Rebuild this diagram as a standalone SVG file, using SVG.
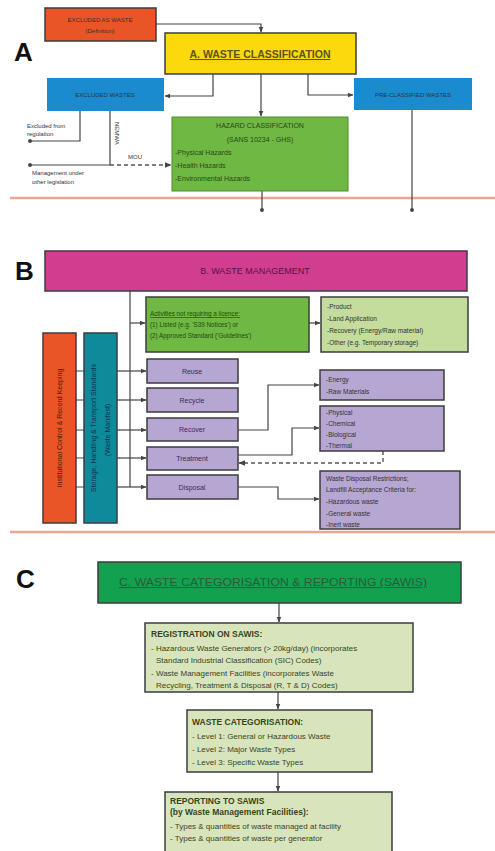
<svg xmlns="http://www.w3.org/2000/svg" width="495" height="851" viewBox="0 0 495 851">
<style>
text{font-family:"Liberation Sans",Arial,sans-serif}
.big{font-size:26px;font-weight:bold;fill:#111}
.bx{stroke:#3d3d3d;stroke-width:1.5}
.orange{fill:#ea5528}
.yellow{fill:#fcd90c}
.blue{fill:#1a8bcf}
.green{fill:#6fb843}
.mag{fill:#d13d8f}
.lgreen{fill:#c4dc9c}
.purple{fill:#b6a6d2}
.teal{fill:#0e8a9b}
.dgreen{fill:#12a24f}
.cgreen{fill:#d8e4bc}
.ln{fill:none;stroke:#444;stroke-width:1.2}
.dash{fill:none;stroke:#555;stroke-width:1.4;stroke-dasharray:4 3}
.red{stroke:#f0a494;stroke-width:2.5}
.s{font-size:6px;fill:#333}
.t7{font-size:7px}
.t8{font-size:8px;fill:#3a4420}
.tb{font-size:8.5px;font-weight:bold;fill:#3a4420}
</style>
<defs>
<marker id="ar" viewBox="0 0 10 10" refX="9" refY="5" markerWidth="5" markerHeight="5" orient="auto"><path d="M0 1L10 5L0 9z" fill="#444"/></marker>
<marker id="dot" viewBox="0 0 10 10" refX="5" refY="5" markerWidth="4" markerHeight="4"><circle cx="5" cy="5" r="4" fill="#444"/></marker>
</defs>
<rect width="495" height="851" fill="#fff"/>

<text class="big" x="14" y="61">A</text>
<text class="big" x="15" y="280">B</text>
<text class="big" x="16" y="588">C</text>

<line class="red" x1="10" y1="198" x2="495" y2="198"/>
<line class="red" x1="10" y1="532" x2="495" y2="532"/>

<g id="connectors">
<path class="ln" d="M156 24H261V32" marker-end="url(#ar)"/>
<path class="ln" d="M213 74V96H165" marker-end="url(#ar)"/>
<path class="ln" d="M308 74V95H353" marker-end="url(#ar)"/>
<path class="ln" d="M261 74V116" marker-end="url(#ar)"/>
<path class="ln" d="M262 191V210" marker-end="url(#dot)"/>
<path class="ln" d="M412 110V210" marker-end="url(#dot)"/>
<path class="ln" d="M80 111V141H30" marker-end="url(#dot)"/>
<path class="ln" d="M110 111V165H30" marker-end="url(#dot)"/>
<path class="dash" d="M110 165H171" marker-end="url(#ar)"/>

<path class="ln" d="M130 291V487"/>
<path class="ln" d="M130 323H145" marker-end="url(#ar)"/>
<path class="ln" d="M309 323H320" marker-end="url(#ar)"/>
<path class="ln" d="M76 371H84M76 400H84M76 430H84M76 458H84M76 487H84"/>
<path class="ln" d="M117 371H146" marker-end="url(#ar)"/>
<path class="ln" d="M117 400H146" marker-end="url(#ar)"/>
<path class="ln" d="M117 430H146" marker-end="url(#ar)"/>
<path class="ln" d="M117 458H146" marker-end="url(#ar)"/>
<path class="ln" d="M117 487H146" marker-end="url(#ar)"/>
<path class="ln" d="M238 430H268V385H319" marker-end="url(#ar)"/>
<path class="ln" d="M238 455H292V428H319" marker-end="url(#ar)"/>
<path class="dash" d="M383 451V463H239" marker-end="url(#ar)"/>
<path class="ln" d="M238 487H278V499H319" marker-end="url(#ar)"/>

<path class="ln" d="M279 603V622" marker-end="url(#ar)"/>
<path class="ln" d="M278 692V709" marker-end="url(#ar)"/>
<path class="ln" d="M278 772V791" marker-end="url(#ar)"/>
</g>

<g id="labels">
<text class="s" x="27" y="128">Excluded from</text>
<text class="s" x="27" y="136">regulation</text>
<text class="s" x="32" y="175">Management under</text>
<text class="s" x="32" y="184">other legislation</text>
<text class="s" transform="translate(115,122) rotate(90)">NEMWA</text>
<text class="s" x="128" y="159">MOU</text>
</g>

<g id="excluded-as-waste">
<rect class="bx orange" x="45" y="8" width="111" height="33"/>
<text class="s" x="100" y="22" text-anchor="middle" fill="#5a2410">EXCLUDED AS WASTE</text>
<text class="s" x="100" y="33" text-anchor="middle" fill="#5a2410">(Definition)</text>
</g>
<g id="waste-classification">
<rect class="bx yellow" x="165" y="33" width="191" height="41"/>
<text x="260" y="58" text-anchor="middle" font-size="10.5" font-weight="bold" fill="#5b5320" text-decoration="underline">A.  WASTE CLASSIFICATION</text>
</g>
<g id="excluded-wastes">
<rect class="blue" x="47" y="78" width="117" height="33"/>
<text class="s" x="105" y="97" text-anchor="middle" fill="#163f60">EXCLUDED WASTES</text>
</g>
<g id="pre-classified">
<rect class="blue" x="354" y="78" width="118" height="32"/>
<text class="s" x="413" y="97" text-anchor="middle" fill="#163f60">PRE-CLASSIFIED WASTES</text>
</g>
<g id="hazard-classification">
<rect class="green" x="172" y="117" width="176" height="74" stroke="#4f8a2c"/>
<g font-size="7" fill="#284a14">
<text x="260" y="128" text-anchor="middle">HAZARD CLASSIFICATION</text>
<text x="260" y="142" text-anchor="middle">(SANS 10234 - GHS)</text>
<text x="175" y="155">-Physical Hazards</text>
<text x="175" y="168">-Health Hazards</text>
<text x="175" y="181">-Environmental Hazards</text>
</g>
</g>

<g id="waste-management">
<rect class="bx mag" x="45" y="251" width="422" height="40"/>
<text x="255" y="274" text-anchor="middle" font-size="9" fill="#5a1440">B.  WASTE MANAGEMENT</text>
</g>
<g id="no-licence">
<rect class="bx green" x="146" y="297" width="163" height="55"/>
<g font-size="6.3" fill="#234a10">
<text x="150" y="316" text-decoration="underline">Activities not requiring a licence:</text>
<text x="150" y="327">(1) Listed (e.g. 'S39 Notices') or</text>
<text x="150" y="338">(2) Approved Standard ('Guidelines')</text>
</g>
</g>
<g id="uses">
<rect class="bx lgreen" x="321" y="297" width="147" height="55"/>
<g font-size="6.5" fill="#333">
<text x="327" y="309">-Product</text>
<text x="327" y="321">-Land Application</text>
<text x="327" y="333">-Recovery (Energy/Raw material)</text>
<text x="327" y="345">-Other (e.g. Temporary storage)</text>
</g>
</g>
<g id="institutional">
<rect class="bx orange" x="43" y="333" width="33" height="190"/>
<text transform="translate(62,428) rotate(-90)" text-anchor="middle" font-size="7" fill="#4a1a00">Institutional Control &amp; Record Keeping</text>
</g>
<g id="storage">
<rect class="bx teal" x="84" y="333" width="33" height="190"/>
<text transform="translate(96,428) rotate(-90)" text-anchor="middle" font-size="7" fill="#0a3550">Storage, Handling &amp; Transport Standards</text>
<text transform="translate(110,430) rotate(-90)" text-anchor="middle" font-size="7" fill="#0a3550">(Waste Manifest)</text>
</g>
<g id="reuse"><rect class="bx purple" x="147" y="359" width="91" height="24"/><text class="t7" x="192" y="374" text-anchor="middle" fill="#3a2a5a">Reuse</text></g>
<g id="recycle"><rect class="bx purple" x="147" y="388" width="91" height="24"/><text class="t7" x="192" y="403" text-anchor="middle" fill="#3a2a5a">Recycle</text></g>
<g id="recover"><rect class="bx purple" x="147" y="418" width="91" height="23"/><text class="t7" x="192" y="432" text-anchor="middle" fill="#3a2a5a">Recover</text></g>
<g id="treatment"><rect class="bx purple" x="147" y="447" width="91" height="23"/><text class="t7" x="192" y="461" text-anchor="middle" fill="#3a2a5a">Treatment</text></g>
<g id="disposal"><rect class="bx purple" x="147" y="475" width="91" height="24"/><text class="t7" x="192" y="490" text-anchor="middle" fill="#3a2a5a">Disposal</text></g>
<g id="energy">
<rect class="bx purple" x="320" y="370" width="124" height="30"/>
<g font-size="6.5" fill="#333"><text x="326" y="382">-Energy</text><text x="326" y="394">-Raw Materials</text></g>
</g>
<g id="treatment-types">
<rect class="bx purple" x="320" y="406" width="124" height="45"/>
<g font-size="6.5" fill="#333">
<text x="326" y="415">-Physical</text><text x="326" y="426">-Chemical</text><text x="326" y="437">-Biological</text><text x="326" y="448">-Thermal</text>
</g>
</g>
<g id="disposal-restrictions">
<rect class="bx purple" x="320" y="471" width="140" height="58"/>
<g font-size="6.5" fill="#333">
<text x="326" y="481">Waste Disposal Restrictions;</text>
<text x="326" y="492">Landfill Acceptance Criteria for:</text>
<text x="326" y="504">-Hazardous waste</text>
<text x="326" y="516">-General waste</text>
<text x="326" y="527">-Inert waste</text>
</g>
</g>

<g id="sawis">
<rect class="bx dgreen" x="98" y="562" width="363" height="41"/>
<text x="273" y="586" text-anchor="middle" font-size="10.5" fill="#2d5a3a" text-decoration="underline" textLength="308" lengthAdjust="spacingAndGlyphs">C.  WASTE CATEGORISATION &amp; REPORTING (SAWIS)</text>
</g>
<g id="registration">
<rect class="bx cgreen" x="145" y="623" width="268" height="69"/>
<text class="tb" x="151" y="637">REGISTRATION ON SAWIS:</text>
<text class="t8" x="151" y="651">- Hazardous Waste Generators (&gt; 20kg/day) (incorporates</text>
<text class="t8" x="156" y="663">Standard Industrial Classification (SIC) Codes)</text>
<text class="t8" x="151" y="676">- Waste Management Facilities (incorporates Waste</text>
<text class="t8" x="156" y="688">Recycling, Treatment &amp; Disposal (R, T &amp; D) Codes)</text>
</g>
<g id="categorisation">
<rect class="bx cgreen" x="187" y="710" width="185" height="62"/>
<text class="tb" x="192" y="725">WASTE CATEGORISATION:</text>
<text class="t8" x="192" y="739">- Level 1: General or Hazardous Waste</text>
<text class="t8" x="192" y="752">- Level 2: Major Waste Types</text>
<text class="t8" x="192" y="765">- Level 3: Specific Waste Types</text>
</g>
<g id="reporting">
<rect class="bx cgreen" x="165" y="792" width="227" height="70"/>
<text class="tb" x="170" y="804">REPORTING TO SAWIS</text>
<text class="tb" x="170" y="815">(by Waste Management Facilities):</text>
<text class="t8" x="170" y="829">- Types &amp; quantities of waste managed at facility</text>
<text class="t8" x="170" y="841">- Types &amp; quantities of waste per generator</text>
</g>
</svg>
